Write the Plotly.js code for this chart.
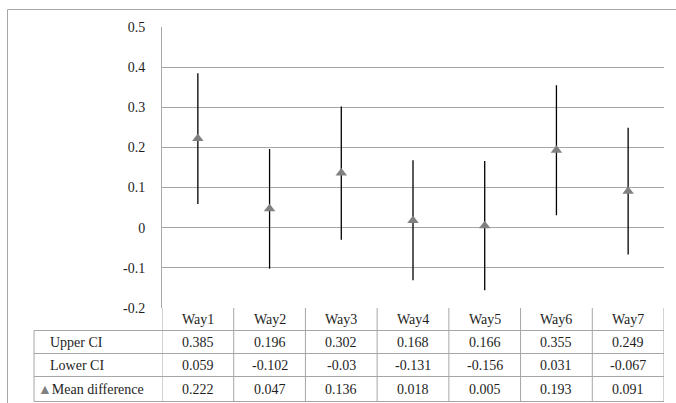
<!DOCTYPE html>
<html>
<head>
<meta charset="utf-8">
<script src="https://cdn.plot.ly/plotly-3.0.1.min.js"></script>
<style>html,body{margin:0;padding:0;background:#fff;}#chart{width:676px;height:403px;}</style>
</head>
<body>
<div id="chart"></div>
<script>
const categories = ['Way1','Way2','Way3','Way4','Way5','Way6','Way7'];
const upperCI = [0.385, 0.196, 0.302, 0.168, 0.166, 0.355, 0.249];
const lowerCI = [0.059, -0.102, -0.03, -0.131, -0.156, 0.031, -0.067];
const meanDiff = [0.222, 0.047, 0.136, 0.018, 0.005, 0.193, 0.091];
const upperLabels = ['0.385','0.196','0.302','0.168','0.166','0.355','0.249'];
const lowerLabels = ['0.059','-0.102','-0.03','-0.131','-0.156','0.031','-0.067'];
const meanLabels = ['0.222','0.047','0.136','0.018','0.005','0.193','0.091'];
const rowLabels = ['Upper CI','Lower CI','Mean difference'];
const yTickVals = [0.5, 0.4, 0.3, 0.2, 0.1, 0, -0.1, -0.2];
const yTickText = ['0.5','0.4','0.3','0.2','0.1','0','-0.1','-0.2'];

const W = 676, H = 403;
const M = {l: 162, r: 12, t: 27, b: 95};
const PW = W - M.l - M.r, PH = H - M.t - M.b;
const FONT = 'Liberation Serif, Times New Roman, serif';
const GRID = '#a6a6a6';
const TXT = '#1e1e1e';
const px = p => (p - M.l) / PW;
const py = p => (H - M.b - p) / PH;

const trace = {
  type: 'scatter',
  mode: 'markers',
  x: categories,
  y: meanDiff,
  marker: {symbol: 'triangle-up', size: 10, color: '#808080'},
  error_y: {
    type: 'data',
    symmetric: false,
    array: upperCI.map((u, i) => u - meanDiff[i]),
    arrayminus: meanDiff.map((m, i) => m - lowerCI[i]),
    color: '#000',
    thickness: 1.3,
    width: 0
  },
  hoverinfo: 'skip'
};

const tableLeft = 34, headTop = 308, rowLines = [330.5, 353.5, 376.5, 401.5];
const rowCenters = [319, 342, 365, 389];

const shapes = [];
const lineStyle = {color: GRID, width: 1};
shapes.push({type:'line', xref:'paper', yref:'paper', x0:px(7.5), x1:px(680), y0:py(9.5), y1:py(9.5), line:lineStyle});
shapes.push({type:'line', xref:'paper', yref:'paper', x0:px(7.5), x1:px(7.5), y0:py(9.5), y1:py(410), line:lineStyle});
rowLines.forEach(y => shapes.push({type:'line', xref:'paper', yref:'paper', x0:px(tableLeft), x1:1, y0:py(y), y1:py(y), line:lineStyle}));
shapes.push({type:'line', xref:'paper', yref:'paper', x0:px(tableLeft), x1:px(tableLeft), y0:py(rowLines[0]), y1:py(rowLines[3]), line:lineStyle});
for (let k = 0; k <= categories.length; k++) {
  shapes.push({type:'line', xref:'x', yref:'paper', x0:k - 0.5, x1:k - 0.5, y0:0, y1:py(rowLines[3]), line:lineStyle});
}

const annotations = [];
const cellFont = {family: FONT, size: 14, color: TXT};
categories.forEach((c, i) => {
  annotations.push({xref:'x', yref:'paper', x:c, y:py(rowCenters[0]), text:c, showarrow:false, xanchor:'center', yanchor:'middle', font:cellFont});
  annotations.push({xref:'x', yref:'paper', x:c, y:py(rowCenters[1]), text:upperLabels[i], showarrow:false, xanchor:'center', yanchor:'middle', font:cellFont});
  annotations.push({xref:'x', yref:'paper', x:c, y:py(rowCenters[2]), text:lowerLabels[i], showarrow:false, xanchor:'center', yanchor:'middle', font:cellFont});
  annotations.push({xref:'x', yref:'paper', x:c, y:py(rowCenters[3]), text:meanLabels[i], showarrow:false, xanchor:'center', yanchor:'middle', font:cellFont});
});
annotations.push({xref:'paper', yref:'paper', x:px(48), y:py(rowCenters[1]), text:rowLabels[0], showarrow:false, xanchor:'left', yanchor:'middle', font:cellFont});
annotations.push({xref:'paper', yref:'paper', x:px(48), y:py(rowCenters[2]), text:rowLabels[1], showarrow:false, xanchor:'left', yanchor:'middle', font:cellFont});
annotations.push({xref:'paper', yref:'paper', x:px(36), y:py(rowCenters[3]), text:'<span style="color:#808080">▲</span>' + rowLabels[2], showarrow:false, xanchor:'left', yanchor:'middle', font:cellFont});

const layout = {
  width: W, height: H,
  margin: {l: M.l, r: M.r, t: M.t, b: M.b, pad: 0, autoexpand: false},
  paper_bgcolor: '#fff', plot_bgcolor: '#fff',
  showlegend: false,
  font: {family: FONT, size: 14, color: TXT},
  xaxis: {
    type: 'category',
    range: [-0.5, 6.5],
    showticklabels: false,
    showgrid: false,
    zeroline: false,
    showline: false,
    fixedrange: true
  },
  yaxis: {
    range: [-0.2, 0.5],
    tickvals: yTickVals,
    ticktext: yTickText,
    showgrid: true,
    gridcolor: GRID,
    gridwidth: 1,
    zeroline: false,
    showline: true,
    linecolor: GRID,
    linewidth: 1,
    ticks: '',
    ticklabelstandoff: 13,
    tickfont: {family: FONT, size: 14, color: TXT},
    fixedrange: true
  },
  shapes: shapes,
  annotations: annotations
};

Plotly.newPlot('chart', [trace], layout, {displayModeBar: false, staticPlot: true});
</script>
</body>
</html>
